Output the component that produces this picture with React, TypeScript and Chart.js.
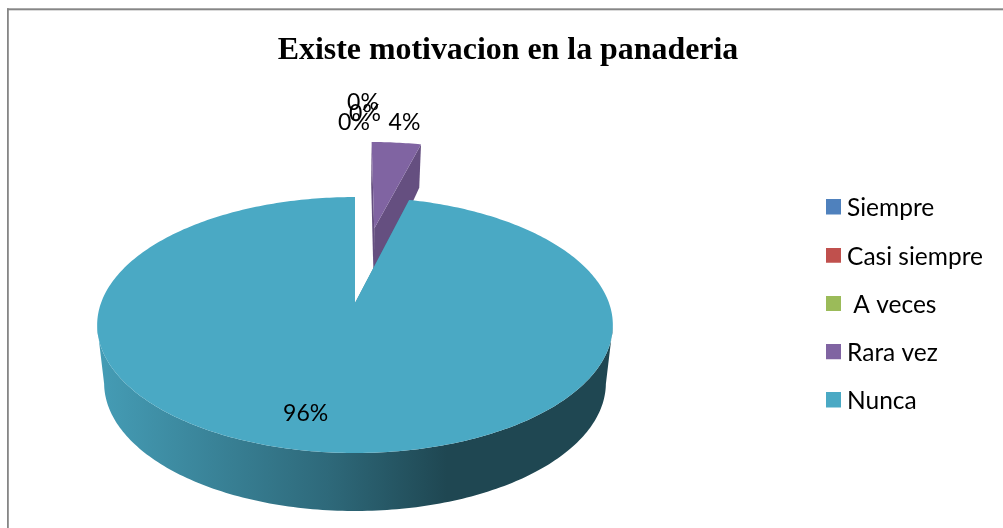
import React, { useEffect, useRef } from "react";
import { Chart, registerables } from "chart.js";

Chart.register(...registerables);

const chartTitle = "Existe motivacion en la panaderia";
const categories = ["Siempre", "Casi siempre", " A veces", "Rara vez", "Nunca"];
const percentages = [0, 0, 0, 4, 96];
const sliceColors = ["#4F81BD", "#C0504D", "#9BBB59", "#8064A2", "#4AA9C4"];
const explodeOffsets = [0, 0, 0, 112.3, 0];
const labelNudges = [
  [-1, -74.5],
  [10, -83],
  [8, -94],
  [8, -20],
  [-11, -38],
];

const LABEL_FONT = '23px Lato, "Noto Sans", sans-serif';
const FRAME_COLOR = "#868686";

// Tilted-disc camera: maps the unit disc of the pie to the screen, with a
// perspective divide so the near edge of the pie looks larger than the far one.
const CAMERA = { x0: 355, y0: 303, a: 254, b: 124.2, k: 0.172, floorScale: 0.973, depth: 58 };

// The rim is seen from here forward: points with a smaller v face away from the viewer.
const FRONT_RIM_V = 0.17;

// Wall height shrinks for whatever is pushed out behind the back of the disc.
const wallDepth = (v: number) => CAMERA.depth - 23 * Math.max(0, -v - 1);

const project = (u: number, v: number, floor: boolean): [number, number] => {
  const w = 1 - CAMERA.k * v;
  const sx = floor ? CAMERA.floorScale : 1;
  const drop = floor ? wallDepth(v) : 0;
  return [CAMERA.x0 + (sx * CAMERA.a * u) / w, CAMERA.y0 + (CAMERA.b * v) / w + drop];
};

const shade = (hex: string, f: number) => {
  const n = parseInt(hex.slice(1), 16);
  const c = [(n >> 16) & 255, (n >> 8) & 255, n & 255].map((x) => Math.round(x * f));
  return `rgb(${c[0]},${c[1]},${c[2]})`;
};

const sliceGeometry = (arc: any) => {
  const { startAngle, endAngle, outerRadius } = arc;
  const frac = (arc.options.offset || 0) / outerRadius;
  const mid = (startAngle + endAngle) / 2;
  const cu = frac * Math.cos(mid);
  const cv = frac * Math.sin(mid);
  const angles: number[] = [];
  const steps = Math.max(4, Math.ceil((endAngle - startAngle) * 60));
  for (let i = 0; i <= steps; i++) {
    angles.push(startAngle + ((endAngle - startAngle) * i) / steps);
  }
  const rimAt = (t: number, floor: boolean) =>
    project(cu + Math.cos(t), cv + Math.sin(t), floor);
  return { cu, cv, mid, angles, rimAt };
};

const fillPoly = (ctx: CanvasRenderingContext2D, pts: [number, number][], fill: any) => {
  ctx.beginPath();
  pts.forEach((p, i) => (i ? ctx.lineTo(p[0], p[1]) : ctx.moveTo(p[0], p[1])));
  ctx.closePath();
  ctx.fillStyle = fill;
  ctx.fill();
};

// Paints the pie's arc elements as a solid disc seen at an angle.
const tiltedPie = {
  id: "tiltedPie",
  beforeDatasetDraw(chart: any, args: any) {
    const ctx: CanvasRenderingContext2D = chart.ctx;
    const arcs = args.meta.data
      .filter((a: any) => a.endAngle - a.startAngle > 1e-6)
      .slice()
      .sort((p: any, q: any) => (p.endAngle - p.startAngle) - (q.endAngle - q.startAngle));
    arcs.forEach((arc: any) => {
      const color = arc.options.backgroundColor as string;
      const { cu, cv, angles, rimAt } = sliceGeometry(arc);
      const top = angles.map((t) => rimAt(t, false));
      const floor = angles.map((t) => rimAt(t, true));

      const apexTop = project(cu, cv, false);
      const apexFloor = project(cu, cv, true);
      const cutColor = shade(color, 0.79);
      fillPoly(ctx, [apexTop, top[0], floor[0], apexFloor], cutColor);
      fillPoly(ctx, [apexTop, top[top.length - 1], floor[floor.length - 1], apexFloor], cutColor);

      const front = angles.filter((t) => cv + Math.sin(t) >= FRONT_RIM_V);
      if (front.length > 1) {
        const grad = ctx.createLinearGradient(96, 0, 612, 0);
        grad.addColorStop(0, shade(color, 0.93));
        grad.addColorStop(0.45, shade(color, 0.62));
        grad.addColorStop(0.68, shade(color, 0.42));
        grad.addColorStop(1, shade(color, 0.42));
        fillPoly(
          ctx,
          [
            ...front.map((t) => rimAt(t, false)),
            ...front.slice().reverse().map((t) => rimAt(t, true)),
          ],
          grad
        );
      }

      fillPoly(ctx, [apexTop, ...top], color);
    });
    return false;
  },
  afterDatasetsDraw(chart: any) {
    const ctx: CanvasRenderingContext2D = chart.ctx;
    const arcs = chart.getDatasetMeta(0).data;
    const values = chart.data.datasets[0].data as number[];
    const total = values.reduce((s, v) => s + v, 0);
    ctx.save();
    ctx.font = LABEL_FONT;
    ctx.fillStyle = "#000";
    ctx.textAlign = "center";
    ctx.textBaseline = "middle";
    arcs.forEach((arc: any, i: number) => {
      const { cu, cv, mid } = sliceGeometry(arc);
      const [x, y] = project(cu + Math.cos(mid), cv + Math.sin(mid), false);
      const text = `${Math.round((values[i] / total) * 100)}%`;
      ctx.fillText(text, x + labelNudges[i][0], y + labelNudges[i][1]);
    });
    ctx.restore();
  },
};

// White page with the chart-area outline, which runs off the right and bottom edges.
const chartFrame = {
  id: "chartFrame",
  beforeDraw(chart: any) {
    const ctx: CanvasRenderingContext2D = chart.ctx;
    ctx.save();
    ctx.fillStyle = "#fff";
    ctx.fillRect(0, 0, chart.width, chart.height);
    ctx.fillStyle = FRAME_COLOR;
    ctx.fillRect(7, 8.3, chart.width - 7, 2);
    ctx.fillRect(7, 8.3, 1.8, chart.height);
    ctx.restore();
  },
};

// Square colour chip for a legend row, sitting a little above the row's text centre.
const makeSwatch = (color: string) => {
  const c = document.createElement("canvas");
  c.width = 15;
  c.height = 18;
  const g = c.getContext("2d")!;
  g.fillStyle = color;
  g.fillRect(0, 0, 15, 15);
  return c;
};

export default function App() {
  const ref = useRef<HTMLCanvasElement>(null);

  useEffect(() => {
    const swatches = sliceColors.map(makeSwatch);
    const chart = new Chart(ref.current!, {
      type: "pie",
      data: {
        labels: categories,
        datasets: [
          {
            data: percentages,
            backgroundColor: sliceColors,
            offset: explodeOffsets,
            borderWidth: 0,
          },
        ],
      },
      plugins: [chartFrame, tiltedPie],
      options: {
        responsive: false,
        animation: false,
        events: [],
        layout: { padding: { left: 23, right: 10, top: 0, bottom: 0 } },
        plugins: {
          tooltip: { enabled: false },
          title: {
            display: true,
            text: chartTitle,
            color: "#000",
            font: { family: '"Liberation Serif", serif', size: 31.9, weight: "bold" },
            padding: { top: 32, bottom: 11.7 },
          },
          legend: {
            display: true,
            position: "right",
            fullSize: false,
            labels: {
              color: "#000",
              font: { family: 'Lato, "Noto Sans", sans-serif', size: 24.5 },
              padding: 23.75,
              usePointStyle: true,
              boxWidth: 3,
              boxHeight: 3,
              generateLabels: (c: any) =>
                c.data.labels.map((text: string, i: number) => ({
                  text,
                  index: i,
                  fillStyle: sliceColors[i],
                  strokeStyle: sliceColors[i],
                  lineWidth: 0,
                  hidden: false,
                  pointStyle: swatches[i],
                })),
            },
          },
        },
      } as any,
    });
    return () => chart.destroy();
  }, []);

  return (
    <div style={{ position: "fixed", left: 0, top: 0 }}>
      <canvas ref={ref} width={1003} height={528} style={{ display: "block" }} />
    </div>
  );
}
